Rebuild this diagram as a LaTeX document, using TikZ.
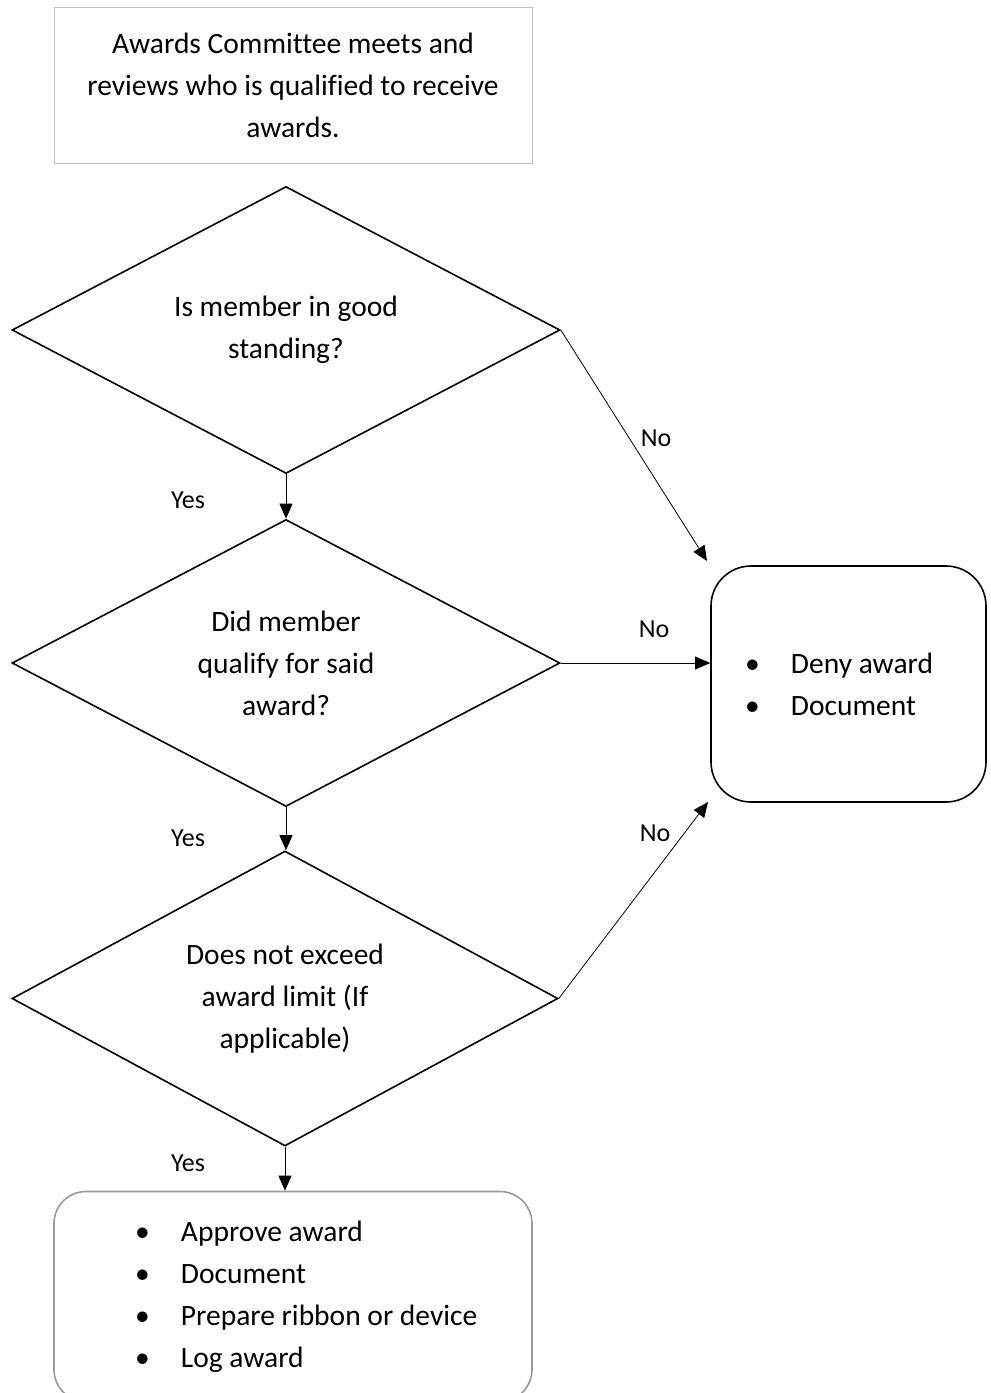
\documentclass[tikz,border=0pt]{standalone}
\usepackage{fontspec}
\setmainfont[Ligatures=NoCommon]{Carlito}
\usetikzlibrary{shapes.geometric,arrows.meta}
\newcommand{\bul}{\spaceskip=0pt\xspaceskip=0pt\relax\makebox[47pt][l]{\hspace{1pt}•}}
\newcommand{\bulb}{\spaceskip=0pt\xspaceskip=0pt\relax\makebox[87pt][l]{\hspace{41pt}•}}
\begin{document}
\begin{tikzpicture}[x=1pt,y=-1pt,
  every node/.style={font=\fontsize{29.5}{42}\selectfont},
  dec/.style={diamond,draw,line width=1.6pt,minimum width=548pt,minimum height=287pt,inner sep=-20pt,align=center},
  conn/.style={line width=0.8pt,-{Triangle[length=15pt,width=13pt]}},
  lbl/.style={font=\fontsize{26}{30}\selectfont,inner sep=0pt}
]
\useasboundingbox (0,0) rectangle (991,1393);
\node[draw=black!25,line width=1pt,minimum width=478pt,minimum height=156pt,align=center,inner sep=0pt] (start) at (293,85)
  {Awards Committee meets and\\reviews who is qualified to receive\\awards.};
\node[dec] (d1) at (286,330) {Is member in good\\standing?};
\node[dec] (d2) at (286,663) {Did member\\qualify for said\\award?};
\node[dec,minimum width=546pt,minimum height=295pt] (d3) at (285,998.5) {Does not exceed\\award limit (If\\applicable)};
\node[draw,line width=1.6pt,rounded corners=40pt,minimum width=275pt,minimum height=236pt,text width=209pt,inner xsep=33pt,align=left] (deny) at (848.5,684)
  {\bul Deny award\\\bul Document};
\node[draw=black!40,line width=1.6pt,rounded corners=32pt,minimum width=478pt,minimum height=210pt,text width=398pt,inner xsep=40pt,align=left] (approve) at (293,1296.5)
  {\bulb Approve award\\\bulb Document\\\bulb Prepare ribbon or device\\\bulb Log award};
\coordinate (t1) at (707,561);
\coordinate (t3) at (708,802);
\draw[conn] (d1.south) -- (d2.north);
\draw[conn] (d2.south) -- (d2.south |- d3.north);
\draw[conn] (d3.south) -- (d3.south |- approve.north);
\draw[conn] (d1.east) -- (t1);
\draw[conn] (d2.east) -- (d2.east -| deny.west);
\draw[conn] (d3.east) -- (t3);
\node[lbl] (y1) at (188,500) {Yes};
\node[lbl] (y2) at (188,838) {Yes};
\node[lbl] (y3) at (188,1163) {Yes};
\node[lbl] (n1) at (656,438) {No};
\node[lbl] (n2) at (654,629) {No};
\node[lbl] (n3) at (655,833) {No};
\end{tikzpicture}
\end{document}
